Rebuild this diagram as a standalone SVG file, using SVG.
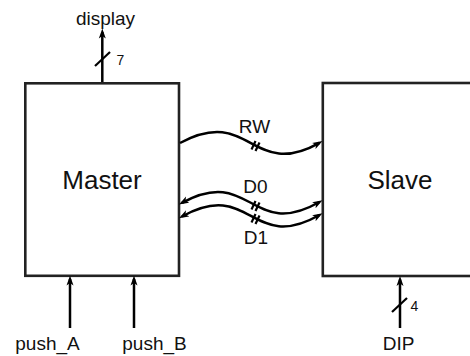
<svg xmlns="http://www.w3.org/2000/svg" width="470" height="356" viewBox="0 0 470 356">
  <style>
    .box { fill: #ffffff; stroke: #222222; stroke-width: 2.6; }
    .big { font-family: "Liberation Sans", Arial, sans-serif; font-size: 26px; fill: #111111; text-anchor: middle; }
    .lbl { font-family: "Liberation Sans", Arial, sans-serif; font-size: 19px; fill: #111111; text-anchor: middle; }
    .num { font-family: "Liberation Sans", Arial, sans-serif; font-size: 14px; fill: #111111; }
    .wire { fill: none; stroke: #000000; stroke-width: 2.5; }
    .tick { fill: none; stroke: #000000; stroke-width: 2.2; }
  </style>
  <defs>
    <marker id="arr" viewBox="0 0 10 8" refX="6.5" refY="4" markerWidth="10" markerHeight="8" markerUnits="userSpaceOnUse" orient="auto-start-reverse">
      <path d="M0,0.5 L10,4 L0,7.5 L2.5,4 Z" fill="#000000"/>
    </marker>
  </defs>
  <rect width="470" height="356" fill="#ffffff"/>

  <g id="master">
    <rect class="box" x="25.3" y="83.3" width="153.7" height="192.5"/>
    <text class="big" x="102" y="188.5">Master</text>
  </g>
  <g id="slave">
    <rect class="box" x="322.8" y="83" width="154" height="193"/>
    <text class="big" x="400" y="189">Slave</text>
  </g>

  <g id="connectors">
    <!-- display bus -->
    <path class="wire" d="M102.3,82 L102.3,32" marker-end="url(#arr)"/>
    <line class="tick" x1="95" y1="66" x2="110" y2="52"/>
    <!-- push_A / push_B -->
    <path class="wire" d="M70,328 L70,279" marker-end="url(#arr)"/>
    <path class="wire" d="M134,328 L134,279" marker-end="url(#arr)"/>
    <!-- DIP bus -->
    <path class="wire" d="M400,328 L400,279.5" marker-end="url(#arr)"/>
    <line class="tick" x1="392" y1="312" x2="407" y2="298"/>
    <!-- RW -->
    <path class="wire" d="M180,143 C251,105 251,181 319.5,142.8" marker-end="url(#arr)"/>
    <line class="tick" x1="251.5" y1="149.5" x2="255.5" y2="141"/>
    <line class="tick" x1="255.5" y1="151" x2="259.5" y2="142.5"/>
    <!-- D0 -->
    <path class="wire" d="M182,202.8 C251,165 251,241 319.5,202" marker-start="url(#arr)" marker-end="url(#arr)"/>
    <line class="tick" x1="251.5" y1="209.5" x2="255.5" y2="201"/>
    <line class="tick" x1="255.5" y1="211" x2="259.5" y2="202.5"/>
    <!-- D1 -->
    <path class="wire" d="M182,216.5 C251,178 251,254 319.5,215" marker-start="url(#arr)" marker-end="url(#arr)"/>
    <line class="tick" x1="251.5" y1="222.5" x2="255.5" y2="214"/>
    <line class="tick" x1="255.5" y1="224" x2="259.5" y2="215.5"/>
  </g>

  <g id="labels">
    <text class="lbl" x="105.5" y="24.5">display</text>
    <text class="num" x="116.5" y="65">7</text>
    <text class="lbl" x="47.5" y="349.5">push_A</text>
    <text class="lbl" x="154.5" y="349.5">push_B</text>
    <text class="lbl" x="398.5" y="349.5">DIP</text>
    <text class="num" x="410.5" y="311">4</text>
    <text class="lbl" x="254.5" y="133">RW</text>
    <text class="lbl" x="255.5" y="193">D0</text>
    <text class="lbl" x="256" y="244">D1</text>
  </g>
</svg>
